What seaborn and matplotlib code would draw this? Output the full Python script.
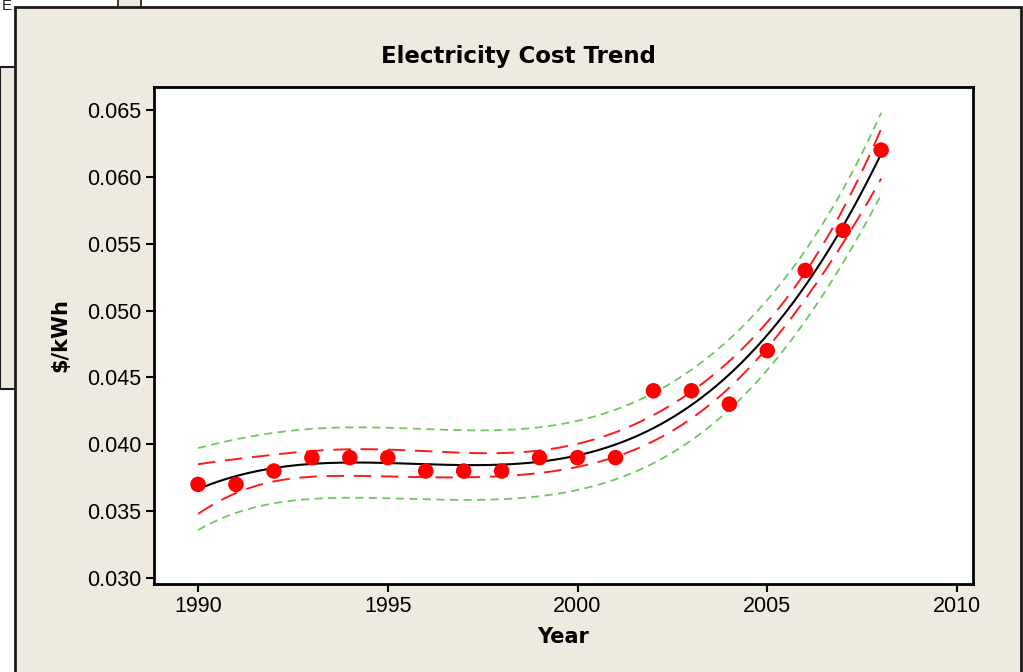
import numpy as np
import pandas as pd
import matplotlib
matplotlib.use("Agg")
import matplotlib.pyplot as plt
from matplotlib.patches import Rectangle
import seaborn as sns

# Average electricity cost per year ($/kWh)
years = [1990, 1991, 1992, 1993, 1994, 1995, 1996, 1997, 1998, 1999,
         2000, 2001, 2002, 2003, 2004, 2005, 2006, 2007, 2008]
cost = [0.037, 0.037, 0.038, 0.039, 0.039, 0.039, 0.038, 0.038, 0.038, 0.039,
        0.039, 0.039, 0.044, 0.044, 0.043, 0.047, 0.053, 0.056, 0.062]

x_ticks = [1990, 1995, 2000, 2005, 2010]
y_ticks = [0.030, 0.035, 0.040, 0.045, 0.050, 0.055, 0.060, 0.065]

# ---- cubic regression with 95% confidence and prediction intervals ----
yr = np.asarray(years, dtype=float)
yv = np.asarray(cost, dtype=float)
center = yr.mean()


def design(t):
    t = np.asarray(t, dtype=float) - center
    return np.column_stack([np.ones_like(t), t, t ** 2, t ** 3])


X = design(yr)
beta, *_ = np.linalg.lstsq(X, yv, rcond=None)
resid = yv - X @ beta
dof = len(yv) - X.shape[1]
s = np.sqrt(resid @ resid / dof)
XtX_inv = np.linalg.inv(X.T @ X)
t_crit = 2.131  # t(0.975, 15)

grid = np.linspace(yr.min(), yr.max(), 200)
G = design(grid)
fit = G @ beta
lev = np.einsum("ij,jk,ik->i", G, XtX_inv, G)
ci = t_crit * s * np.sqrt(lev)
pi = t_crit * s * np.sqrt(1 + lev)

curves = pd.DataFrame({
    "Year": grid,
    "fit": fit,
    "ci_lo": fit - ci, "ci_hi": fit + ci,
    "pi_lo": fit - pi, "pi_hi": fit + pi,
})
points = pd.DataFrame({"Year": years, "Cost": cost})

# ---- figure ----
sns.set_theme(style="white")
plt.rcParams["font.family"] = ["Liberation Sans", "DejaVu Sans"]

W, H = 1023, 672
fig = plt.figure(figsize=(W / 100, H / 100), dpi=100, facecolor="white")


def fx(px):
    return px / W


def fy(py):
    return 1 - py / H


beige = "#eeeae0"
# window frames
fig.patches.append(Rectangle((fx(0), fy(389)), fx(16), fy(67) - fy(389),
                             transform=fig.transFigure, facecolor=beige,
                             edgecolor="#1a1a1a", lw=1.5, zorder=0))
fig.patches.append(Rectangle((fx(118), fy(8)), fx(23), fy(0) - fy(8) + 0.01,
                             transform=fig.transFigure, facecolor=beige,
                             edgecolor="#1a1a1a", lw=1.2, zorder=0))
fig.patches.append(Rectangle((fx(15), fy(H + 5)), fx(1021 - 15), fy(7) - fy(H + 5),
                             transform=fig.transFigure, facecolor=beige,
                             edgecolor="#1a1a1a", lw=2, zorder=1))
fig.text(fx(2), fy(-1), "E", fontsize=11, va="top", ha="left", color="#222222")

ax = fig.add_axes([fx(154), fy(584), fx(973 - 154), fy(87) - fy(584)])
ax.set_facecolor("white")
ax.set_zorder(2)

green = "#6acb5a"
red = "#ff1a1a"
sns.lineplot(data=curves, x="Year", y="pi_hi", ax=ax, color=green, lw=1.3,
             linestyle=(0, (4.5, 3)))
sns.lineplot(data=curves, x="Year", y="pi_lo", ax=ax, color=green, lw=1.3,
             linestyle=(0, (4.5, 3)))
sns.lineplot(data=curves, x="Year", y="ci_hi", ax=ax, color=red, lw=1.4,
             linestyle=(0, (9, 5)))
sns.lineplot(data=curves, x="Year", y="ci_lo", ax=ax, color=red, lw=1.4,
             linestyle=(0, (9, 5)))
sns.lineplot(data=curves, x="Year", y="fit", ax=ax, color="black", lw=1.5)
sns.scatterplot(data=points, x="Year", y="Cost", ax=ax, color="#ff0000",
                s=125, edgecolor="none", zorder=5)

ax.set_xlim(1988.84, 2010.42)
ax.set_ylim(0.02955, 0.06672)
ax.set_xticks(x_ticks)
ax.set_yticks(y_ticks)
ax.set_xticklabels([str(v) for v in x_ticks])
ax.set_yticklabels([f"{v:.3f}" for v in y_ticks])
ax.tick_params(axis="both", which="major", direction="out", length=6, width=1.5,
               color="black", labelsize=15.5, labelcolor="black", pad=3,
               bottom=True, left=True, top=False, right=False)
for sp in ax.spines.values():
    sp.set_visible(True)
    sp.set_color("black")
    sp.set_linewidth(2)

bold_family = ["DejaVu Sans"]
ax.set_xlabel("Year", fontsize=15, fontweight="bold", color="black",
              family=bold_family)
ax.set_ylabel("$/kWh", fontsize=15, fontweight="bold", color="black",
              family=bold_family)
ax.xaxis.set_label_coords(0.4994, -0.1066)
ax.yaxis.set_label_coords(-0.1148, 0.501)
ax.xaxis.label.set_va("center")
ax.yaxis.label.set_va("center")

fig.text(fx(518), fy(56), "Electricity Cost Trend", fontsize=16.5,
         fontweight="bold", ha="center", va="center", color="black",
         family=bold_family)

fig.savefig("out.png", dpi=100, facecolor="white")
